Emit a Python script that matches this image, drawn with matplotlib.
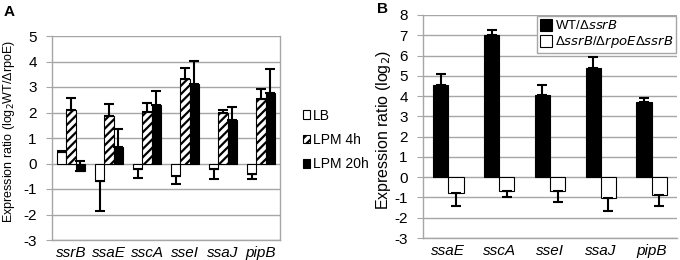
import numpy as np
import matplotlib
matplotlib.use("Agg")
from matplotlib import pyplot as plt

plt.rcParams['font.family'] = ['Liberation Sans', 'DejaVu Sans']
plt.rcParams['hatch.linewidth'] = 1.6
plt.rcParams['axes.unicode_minus'] = False

# panel A data
genes_a = ['ssrB', 'ssaE', 'sscA', 'sseI', 'ssaJ', 'pipB']
lb = [0.45, -0.7, -0.22, -0.48, -0.2, -0.4]
lb_err = [0.05, 1.15, 0.35, 0.34, 0.4, 0.2]
lpm4 = [2.1, 1.87, 2.02, 3.3, 1.98, 2.54]
lpm4_err = [0.45, 0.45, 0.36, 0.45, 0.12, 0.39]
lpm20 = [-0.3, 0.65, 2.28, 3.12, 1.7, 2.78]
lpm20_err = [0.38, 0.72, 0.57, 0.91, 0.52, 0.94]
a_ticks = [-3, -2, -1, 0, 1, 2, 3, 4, 5]

# panel B data
genes_b = ['ssaE', 'sscA', 'sseI', 'ssaJ', 'pipB']
wt = [4.54, 6.99, 4.06, 5.41, 3.69]
wt_err = [0.56, 0.29, 0.48, 0.5, 0.2]
dd = [-0.78, -0.66, -0.7, -1.01, -0.86]
dd_err = [0.64, 0.33, 0.54, 0.65, 0.55]
b_ticks = [-3, -2, -1, 0, 1, 2, 3, 4, 5, 6, 7, 8]

grid_c = '#a6a6a6'


def err_dir(vals, errs, upward_neg=()):
    lo, hi = [], []
    for i, (v, e) in enumerate(zip(vals, errs)):
        if v >= 0 or i in upward_neg:
            lo.append(0); hi.append(e)
        else:
            lo.append(e); hi.append(0)
    return [lo, hi]


def style_ax(ax, ticks):
    ax.set_ylim(ticks[0], ticks[-1])
    ax.set_yticks(ticks)
    ax.yaxis.grid(True, color=grid_c, lw=1.0)
    ax.set_axisbelow(True)
    ax.spines['top'].set_visible(False)
    for s in ['left', 'bottom', 'right']:
        ax.spines[s].set_color(grid_c)
        ax.spines[s].set_linewidth(1.0)
    ax.tick_params(axis='y', length=4, color=grid_c, labelsize=11, pad=7)
    ax.tick_params(axis='x', length=0, labelsize=11, pad=4)
    for t in ax.get_xticklabels():
        t.set_style('italic')


fig = plt.figure(figsize=(6.8, 2.6), dpi=100)

# Panel A
axA = fig.add_axes([52 / 680, 1 - 240 / 260, (280 - 52) / 680, (240 - 36) / 260])
x = np.arange(len(genes_a))
w = 0.24
ek = dict(ecolor='black', elinewidth=1.5, capsize=3.5, capthick=1.5)
axA.bar(x - w, lb, w, color='white', edgecolor='black', lw=0.8, label='LB',
        yerr=err_dir(lb, lb_err), error_kw=ek)
axA.bar(x, lpm4, w, color='white', edgecolor='black', lw=0.8, hatch='////',
        label='LPM 4h', yerr=err_dir(lpm4, lpm4_err), error_kw=ek)
axA.bar(x + w, lpm20, w, color='black', edgecolor='black', lw=0.8,
        label='LPM 20h', yerr=err_dir(lpm20, lpm20_err, upward_neg=(0,)), error_kw=ek)
axA.set_xlim(-0.5, len(genes_a) - 0.5)
axA.set_xticks(x)
axA.set_xticklabels(genes_a)
style_ax(axA, a_ticks)
axA.set_ylabel('Expression ratio (log$_2$WT/ΔrpoE)', fontsize=9)
axA.yaxis.set_label_coords((17 - 52) / 228, (240 - 131) / 204)
fig.legend(*axA.get_legend_handles_labels(), loc='center left',
           bbox_to_anchor=(290 / 680, 1 - 140 / 260), frameon=False,
           fontsize=10, handlelength=0.55, handleheight=0.55, handletextpad=0.2,
           labelspacing=0.75)
fig.text(4 / 680, 1 - 12 / 260, 'A', fontsize=11, fontweight='bold', va='center')

# Panel B
axB = fig.add_axes([423 / 680, 1 - 238 / 260, (677 - 423) / 680, (238 - 15) / 260])
xb = np.arange(len(genes_b))
wb = 0.3
axB.bar(xb - wb / 2, wt, wb, color='black', edgecolor='black', lw=0.8,
        label='WT/Δ$\\it{ssrB}$', yerr=err_dir(wt, wt_err), error_kw=ek)
axB.bar(xb + wb / 2, dd, wb, color='white', edgecolor='black', lw=0.8,
        label='Δ$\\it{ssrB}$/Δ$\\it{rpoE}$Δ$\\it{ssrB}$', yerr=err_dir(dd, dd_err), error_kw=ek)
axB.set_xlim(-0.5, len(genes_b) - 0.5)
axB.set_xticks(xb)
axB.set_xticklabels(genes_b)
style_ax(axB, b_ticks)
axB.spines['right'].set_visible(False)
axB.set_ylabel('Expression ratio (log$_2$)', fontsize=11.5)
axB.yaxis.set_label_coords((393 - 423) / 254, (238 - 130) / 223)
axB.legend(loc='upper right', bbox_to_anchor=(1.0, 1.0), fontsize=9.5,
           fancybox=False, edgecolor=grid_c, framealpha=1,
           handlelength=0.9, handleheight=1.0, handletextpad=0.2,
           labelspacing=0.15, borderpad=0.2, borderaxespad=0.1)
fig.text(377 / 680, 1 - 9 / 260, 'B', fontsize=11, fontweight='bold', va='center')

fig.savefig('out.png', dpi=100)
